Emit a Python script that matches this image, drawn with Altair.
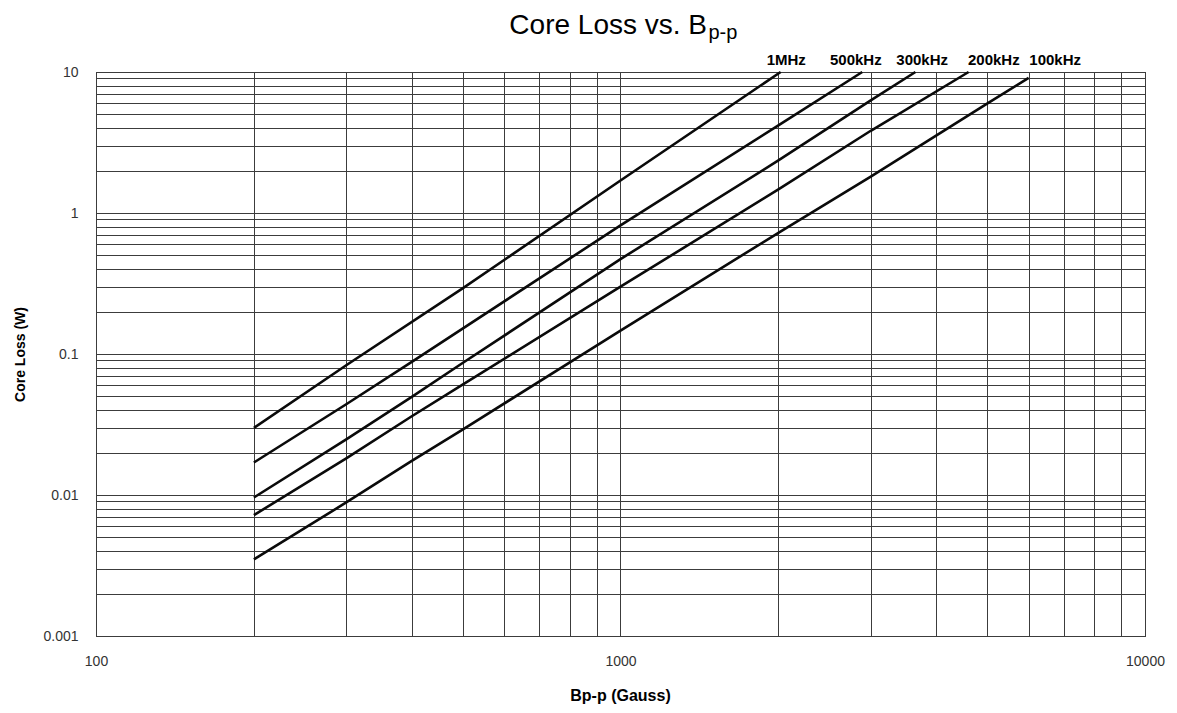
import altair as alt
import pandas as pd

# ---- data ----
freqs = ["1MHz", "500kHz", "300kHz", "200kHz", "100kHz"]

b_1mhz = [200, 300, 500, 1000, 2020]
w_1mhz = [0.0299, 0.0832, 0.292, 1.70, 10.0]

b_500k = [200, 300, 400, 1000, 2000, 2890]
w_500k = [0.0170, 0.0440, 0.088, 0.817, 4.18, 10.0]

b_300k = [200, 300, 400, 500, 1000, 2000, 3000, 3650]
w_300k = [0.0096, 0.0248, 0.0496, 0.0863, 0.471, 2.36, 6.3, 10.0]

b_200k = [200, 300, 400, 500, 1000, 2000, 3000, 4610]
w_200k = [0.0072, 0.0182, 0.0362, 0.0607, 0.30, 1.47, 3.83, 10.0]

b_100k = [200, 300, 400, 500, 1000, 2000, 3000, 5000, 6000]
w_100k = [0.0035, 0.00885, 0.01746, 0.0291, 0.1466, 0.724, 1.81, 5.96, 9.1]

# where each frequency label sits along the B axis
label_b = [2070, 2810, 3760, 5150, 6740]

x_ticks = [100, 200, 300, 400, 500, 600, 700, 800, 900,
           1000, 2000, 3000, 4000, 5000, 6000, 7000, 8000, 9000, 10000]
y_ticks = [0.001, 0.002, 0.003, 0.004, 0.005, 0.006, 0.007, 0.008, 0.009,
           0.01, 0.02, 0.03, 0.04, 0.05, 0.06, 0.07, 0.08, 0.09,
           0.1, 0.2, 0.3, 0.4, 0.5, 0.6, 0.7, 0.8, 0.9,
           1, 2, 3, 4, 5, 6, 7, 8, 9, 10]

series = [b_1mhz, b_500k, b_300k, b_200k, b_100k]
values = [w_1mhz, w_500k, w_300k, w_200k, w_100k]

rows = []
for name, bs, ws in zip(freqs, series, values):
    for i, (b, w) in enumerate(zip(bs, ws)):
        rows.append({"freq": name, "B": b, "loss": w, "ord": i})
df = pd.DataFrame(rows)
labels_df = pd.DataFrame({"freq": freqs, "B": label_b})
one = pd.DataFrame({"k": [0]})

FONT = "Liberation Sans"

x_scale = alt.Scale(type="log", domain=[100, 10000], nice=False)
y_scale = alt.Scale(type="log", domain=[0.001, 10], nice=False)

x_axis = alt.Axis(
    values=x_ticks, format="~g",
    labelExpr="(datum.value == 100 || datum.value == 1000 || datum.value == 10000) ? datum.label : ''",
    grid=True, gridColor="#3c3c3c", gridWidth=1, gridOpacity=1,
    ticks=False, tickSize=0, domain=False,
    labelFont=FONT, labelFontSize=14, labelColor="#333333", labelPadding=18,
    labelOverlap=False, labelFlush=False,
    title="Bp-p (Gauss)", titleFont=FONT, titleFontSize=16, titleFontWeight="bold",
    titleColor="#000000", titleX=524, titleY=64, titleAlign="center",
    titleBaseline="alphabetic",
)
y_axis = alt.Axis(
    values=y_ticks, format="~g",
    labelExpr="(datum.value == 0.001 || datum.value == 0.01 || datum.value == 0.1 || datum.value == 1 || datum.value == 10) ? datum.label : ''",
    grid=True, gridColor="#3c3c3c", gridWidth=1, gridOpacity=1,
    ticks=False, tickSize=0, domain=False,
    labelFont=FONT, labelFontSize=14, labelColor="#333333", labelPadding=18,
    labelOverlap=False, labelFlush=False,
    title="Core Loss (W)", titleFont=FONT, titleFontSize=14, titleFontWeight="bold",
    titleColor="#000000", titleX=-76, titleY=282, titleAngle=270,
    titleAlign="center", titleBaseline="middle",
)

X = alt.X("B:Q", scale=x_scale, axis=x_axis)
Y = alt.Y("loss:Q", scale=y_scale, axis=y_axis)

lines = alt.Chart(df).mark_line(color="#0a0a0a", strokeWidth=2.6).encode(
    x=X, y=Y, detail="freq:N", order="ord:Q"
)

freq_labels = alt.Chart(labels_df).mark_text(
    font=FONT, fontSize=15, fontWeight="bold", color="#000000",
    align="center", baseline="alphabetic"
).encode(x=X, y=alt.value(-7), text="freq:N")

title_main = alt.Chart(one).mark_text(
    font=FONT, fontSize=28, color="#000000", align="right", baseline="alphabetic"
).encode(x=alt.value(611), y=alt.value(-38), text=alt.value("Core Loss vs. B"))

title_sub = alt.Chart(one).mark_text(
    font=FONT, fontSize=20, color="#000000", align="left", baseline="alphabetic"
).encode(x=alt.value(612.5), y=alt.value(-33.5), text=alt.value("p-p"))

chart = alt.layer(lines, freq_labels, title_main, title_sub).properties(
    width=1049, height=564,
    padding={"left": 88, "top": 64, "right": 24, "bottom": 69},
    autosize=alt.AutoSizeParams(type="none"),
    background="white",
).configure_view(stroke="#000000", strokeWidth=1)

chart.save("out.html", embed_options={"renderer": "svg", "actions": False})
